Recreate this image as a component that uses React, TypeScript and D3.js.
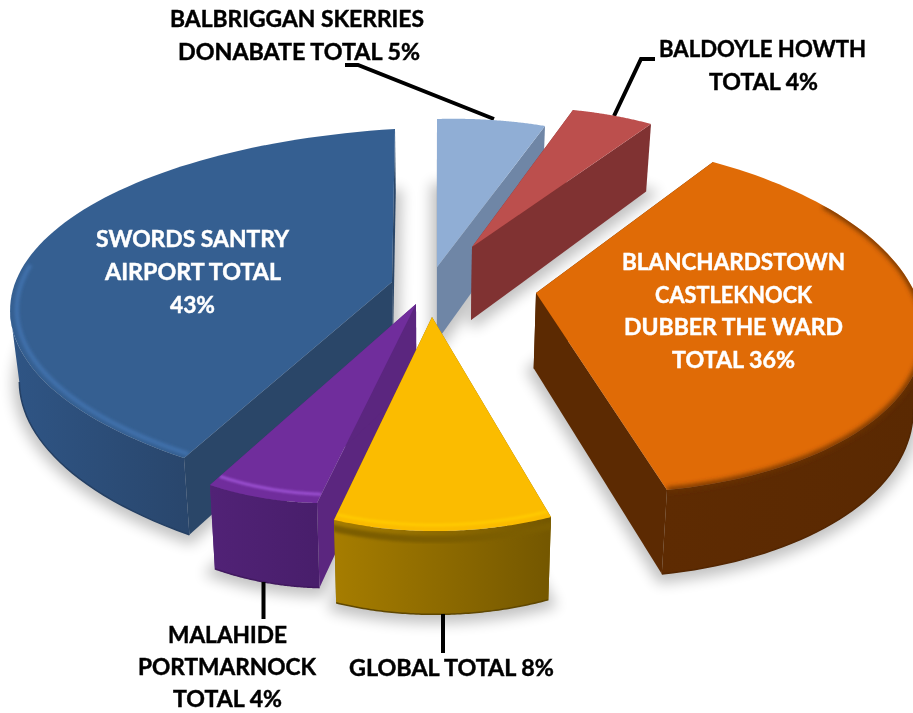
import React from "react";
import * as d3 from "d3";

// ---- data -------------------------------------------------------------
const categories = [
  "Balbriggan Skerries Donabate",
  "Baldoyle Howth",
  "Blanchardstown Castleknock Dubber The Ward",
  "Global",
  "Malahide Portmarnock",
  "Swords Santry Airport",
];
const shares = [5, 4, 36, 8, 4, 43];
const topColors = ["#90aed5", "#bc4f4d", "#e06b06", "#fbbc00", "#702d9c", "#355f91"];
const radialWallColors = ["#6f86a6", "#803232", "#5c2a02", "#8a6800", "#5b267f", "#2a4668"];
const outerWallStops = [
  ["#6f86a6", "#6f86a6"],
  ["#803232", "#7c3030"],
  ["#5e2b02", "#5a2902"],
  ["#a67d00", "#745700"],
  ["#512276", "#481e6b"],
  ["#2f5585", "#29466c"],
];
const labelLines = [
  ["BALBRIGGAN SKERRIES", "DONABATE TOTAL 5%"],
  ["BALDOYLE HOWTH", "TOTAL 4%"],
  ["BLANCHARDSTOWN", "CASTLEKNOCK", "DUBBER THE WARD", "TOTAL 36%"],
  ["GLOBAL TOTAL 8%"],
  ["MALAHIDE", "PORTMARNOCK", "TOTAL 4%"],
  ["SWORDS SANTRY", "AIRPORT TOTAL", "43%"],
];

// ---- layout calibration (camera of each exploded slice) -----------------
type P = [number, number];
// centre of the slice, rim at start angle, rim at mid angle, rim at end angle
const cameras: P[][] = [
  [[437, 267], [437, 119], [492, 120], [545, 126]],
  [[472, 247], [573, 110], [613, 115.5], [651, 124]],
  [[536, 293], [713, 162], [924, 332], [667, 490]],
  [[432, 317], [551, 517], [441, 531], [334, 520]],
  [[416, 304], [317, 503], [263, 498], [210, 485]],
  [[392, 282], [184, 458], [35, 250], [395, 129]],
];
const depthScale = [1, 1, 1, 0.97, 1, 0.93];
// left edge, baseline and rendered width of every label line
const labelLayout: { fill: string; rows: [number, number, number][] }[] = [
  { fill: "#000", rows: [[170, 27, 254], [178, 60, 242]] },
  { fill: "#000", rows: [[659, 57, 207], [709, 90, 109]] },
  { fill: "#fff", rows: [[622, 270, 223], [655, 303, 157], [624, 335, 219], [672, 368, 123]] },
  { fill: "#000", rows: [[349, 676, 205]] },
  { fill: "#000", rows: [[168, 643, 119], [138, 675, 178], [173, 707, 109]] },
  { fill: "#fff", rows: [[96, 247, 193], [105, 280, 176], [170, 313, 45]] },
];
const leaderLines: P[][] = [
  [[345, 65], [358, 65], [494, 119]],
  [[655, 59], [641, 59], [614, 116]],
  [[443, 614], [443, 653]],
  [[263.5, 582], [263.5, 619]],
];
// highlight along the rim: [colour, width, blur id, radius, start frac, end frac]
const bevels: [string, number, string, number, number, number][][] = [
  [],
  [],
  [["#6a3003", 5, "b3", 1.0, 0.18, 1]],
  [["#ffca00", 3, "b1", 0.985, 0, 1], ["#7c5d00", 7, "b2", 1.02, 0, 1]],
  [["#9a4fd0", 3, "b1", 0.98, 0, 1]],
  [["#3f70aa", 4.5, "b2", 0.98, 0, 0.46]],
];
const drawOrder = [0, 1, 5, 2, 4, 3];
const bottomEdge = ["#667d9c", "#752d2d", "#532602", "#5f4700", "#41195f", "#243f63"];

// ---- geometry ----------------------------------------------------------
function solve(A: number[][], b: number[]) {
  const n = b.length;
  const M = A.map((r, i) => [...r, b[i]]);
  for (let i = 0; i < n; i++) {
    let p = i;
    for (let k = i + 1; k < n; k++) if (Math.abs(M[k][i]) > Math.abs(M[p][i])) p = k;
    [M[i], M[p]] = [M[p], M[i]];
    for (let k = 0; k < n; k++) {
      if (k === i) continue;
      const f = M[k][i] / M[i][i];
      for (let j = i; j <= n; j++) M[k][j] -= f * M[i][j];
    }
  }
  return M.map((r, i) => r[n] / r[i]);
}
const rimPoint = (a: number, r = 1): P => [r * Math.sin(a), -r * Math.cos(a)];
function makeProjection(from: P[], to: P[]) {
  const A: number[][] = [];
  const b: number[] = [];
  from.forEach(([X, Y], i) => {
    const [x, y] = to[i];
    A.push([X, Y, 1, 0, 0, 0, -x * X, -x * Y]);
    b.push(x);
    A.push([0, 0, 0, X, Y, 1, -y * X, -y * Y]);
    b.push(y);
  });
  const h = solve(A, b);
  return ([X, Y]: P): P => {
    const w = h[6] * X + h[7] * Y + 1;
    return [(h[0] * X + h[1] * Y + h[2]) / w, (h[3] * X + h[4] * Y + h[5]) / w];
  };
}
const dropBy = (scale: number) => ([x, y]: P): P => [
  x + (430 - x) * 0.022,
  y + (62 + 0.045 * y) * scale,
];
const line = d3.line<P>();

const pieAngles = d3.pie<number>().sort(null).value((d) => d)(shares);

const slices = pieAngles.map((s, i) => {
  const a0 = s.startAngle;
  const a1 = s.endAngle;
  const am = (a0 + a1) / 2;
  const drop = dropBy(depthScale[i]);
  const project = makeProjection(
    [[0, 0], rimPoint(a0), rimPoint(am), rimPoint(a1)],
    cameras[i]
  );
  const steps = d3.range(0, 81).map((k) => a0 + ((a1 - a0) * k) / 80);
  const rim = steps.map((a) => project(rimPoint(a)));
  const apex = project([0, 0]);
  const rimLow = rim.map(drop);
  const apexLow = drop(apex);
  const top = line([apex, ...rim])! + "Z";
  const floor = line([apexLow, ...rimLow])! + "Z";
  // only the part of the rim that runs right-to-left on screen faces the viewer
  const facing = d3.range(0, 81).filter(
    (k) =>
      (k < 80 && rim[k + 1][0] < rim[k][0]) || (k > 0 && rim[k][0] < rim[k - 1][0])
  );
  const rimVis = facing.map((k) => rim[k]);
  const lowVis = facing.map((k) => rimLow[k]);
  const outer = facing.length
    ? line([...rimVis, ...lowVis.slice().reverse()])! + "Z"
    : "";
  const edge = facing.length ? line(lowVis)! : "";
  const wallA = line([apex, rim[0], rimLow[0], apexLow])! + "Z";
  const wallB = line([apex, rim[80], rimLow[80], apexLow])! + "Z";
  const bevelPaths = bevels[i].map(([color, width, blur, r, f0, f1]) => ({
    color,
    width,
    blur,
    d: line(
      d3
        .range(Math.round(f0 * 80), Math.round(f1 * 80) + 1)
        .map((k) => project(rimPoint(a0 + ((a1 - a0) * k) / 80, r)))
    )!,
  }));
  return { i, top, floor, outer, wallA, wallB, bevelPaths, edge };
});

export default function App() {
  return (
    <svg
      width={913}
      height={713}
      viewBox="0 0 913 713"
      style={{ position: "absolute", left: 0, top: 0, display: "block", background: "#fff" }}
      fontFamily="Lato, 'Open Sans', sans-serif"
      role="img"
      aria-label={categories.join(", ")}
    >
      <defs>
        <filter id="shadow" x="-30%" y="-30%" width="160%" height="160%">
          <feGaussianBlur stdDeviation="7" />
        </filter>
        <filter id="b1" x="-10%" y="-30%" width="120%" height="160%">
          <feGaussianBlur stdDeviation="1" />
        </filter>
        <filter id="b2" x="-10%" y="-30%" width="120%" height="160%">
          <feGaussianBlur stdDeviation="1.6" />
        </filter>
        <filter id="b3" x="-10%" y="-30%" width="120%" height="160%">
          <feGaussianBlur stdDeviation="2.4" />
        </filter>
        {outerWallStops.map((stops, i) => (
          <linearGradient key={i} id={`wall${i}`} x1="0" x2="1" y1="0" y2="0">
            <stop offset="0" stopColor={stops[0]} />
            <stop offset="1" stopColor={stops[1]} />
          </linearGradient>
        ))}
        {slices.map((s) => (
          <clipPath key={s.i} id={`topClip${s.i}`}>
            <path d={s.outer} />
            <path d={s.top} />
          </clipPath>
        ))}
      </defs>

      <g filter="url(#shadow)" opacity={0.24}>
        {slices.map((s) => (
          <path key={s.i} d={s.floor} fill="#000" stroke="#000" strokeWidth={12} transform="translate(0,3)" />
        ))}
      </g>

      {leaderLines.slice(0, 2).map((pts, i) => (
        <path key={i} d={line(pts)!} fill="none" stroke="#000" strokeWidth={4} />
      ))}

      {drawOrder.map((i) => {
        const s = slices[i];
        return (
          <g key={i}>
            <path d={s.wallA} fill={radialWallColors[i]} />
            <path d={s.wallB} fill={radialWallColors[i]} />
            {s.outer && <path d={s.outer} fill={`url(#wall${i})`} />}
            {s.edge && <path d={s.edge} fill="none" stroke={bottomEdge[i]} strokeWidth={1.5} />}
            <path d={s.top} fill={topColors[i]} />
            <g clipPath={`url(#topClip${i})`}>
              {s.bevelPaths
                .slice()
                .reverse()
                .map((b, k) => (
                  <path
                    key={k}
                    d={b.d}
                    fill="none"
                    stroke={b.color}
                    strokeWidth={b.width}
                    filter={`url(#${b.blur})`}
                  />
                ))}
            </g>
          </g>
        );
      })}

      {leaderLines.slice(2).map((pts, i) => (
        <path key={i} d={line(pts)!} fill="none" stroke="#000" strokeWidth={4} />
      ))}

      {labelLines.map((lines, i) =>
        lines.map((t, k) => (
          <text
            key={`${i}-${k}`}
            x={labelLayout[i].rows[k][0]}
            y={labelLayout[i].rows[k][1]}
            textLength={labelLayout[i].rows[k][2]}
            lengthAdjust="spacingAndGlyphs"
            fontSize={23}
            fontWeight={700}
            fill={labelLayout[i].fill}
            stroke={labelLayout[i].fill}
            strokeWidth={0.45}
          >
            {t}
          </text>
        ))
      )}
    </svg>
  );
}
